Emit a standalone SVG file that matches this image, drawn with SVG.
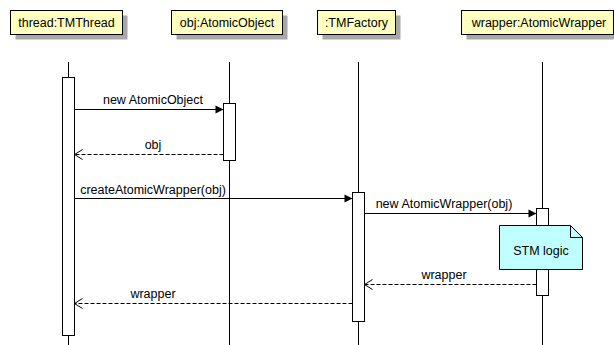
<svg xmlns="http://www.w3.org/2000/svg" width="614" height="345" viewBox="0 0 614 345">
<defs>
<style>
text{font-family:"Liberation Sans",Arial,sans-serif;font-size:12.5px;fill:#000}
.box{fill:#FFFFC0;stroke:#000;stroke-width:1}
.shadow{fill:#A8A8A8;stroke:none}
.life{stroke:#000;stroke-width:1;fill:none}
.act{fill:#fff;stroke:#000;stroke-width:1}
.msg{stroke:#000;stroke-width:1;fill:none}
.ret{stroke:#000;stroke-width:1;fill:none;stroke-dasharray:4,2}
</style>
<marker id="filled" markerWidth="10" markerHeight="10" refX="9" refY="5" orient="auto" markerUnits="userSpaceOnUse">
<path d="M1,1 L9,5 L1,9 Z" fill="#000"/>
</marker>
<marker id="open" markerWidth="12" markerHeight="12" refX="10" refY="6" orient="auto" markerUnits="userSpaceOnUse">
<path d="M2,1 L10,6 L2,11" fill="none" stroke="#000" stroke-width="1"/>
</marker>
</defs>
<rect width="614" height="345" fill="#fff"/>
<g id="lifelines">
<line class="life" x1="68.5" y1="62" x2="68.5" y2="345"/>
<line class="life" x1="229.5" y1="62" x2="229.5" y2="345"/>
<line class="life" x1="358.5" y1="62" x2="358.5" y2="345"/>
<line class="life" x1="542.5" y1="62" x2="542.5" y2="345"/>
</g>
<g id="thread">
<rect class="shadow" x="15.5" y="15.5" width="112" height="24"/>
<rect class="box" x="10.5" y="10.5" width="112" height="24"/>
<text x="66.5" y="27" text-anchor="middle">thread:TMThread</text>
<rect class="act" x="62.5" y="77.5" width="12" height="258"/>
</g>
<g id="obj">
<rect class="shadow" x="176.5" y="15.5" width="111" height="24"/>
<rect class="box" x="171.5" y="10.5" width="111" height="24"/>
<text x="227" y="27" text-anchor="middle">obj:AtomicObject</text>
<rect class="act" x="223.5" y="103.5" width="12" height="57"/>
</g>
<g id="factory">
<rect class="shadow" x="322.5" y="15.5" width="78" height="24"/>
<rect class="box" x="317.5" y="10.5" width="78" height="24"/>
<text x="356.5" y="27" text-anchor="middle">:TMFactory</text>
<rect class="act" x="352.5" y="192.5" width="12" height="129"/>
</g>
<g id="wrapper">
<rect class="shadow" x="466.5" y="15.5" width="152" height="24"/>
<rect class="box" x="461.5" y="10.5" width="152" height="24"/>
<text x="539" y="27" text-anchor="middle">wrapper:AtomicWrapper</text>
<rect class="act" x="536.5" y="208.5" width="12" height="87"/>
</g>
<g id="note">
<path d="M499.5,225.5 L570.5,225.5 L582.5,237.5 L582.5,269.5 L499.5,269.5 Z" fill="#C0FFFF" stroke="#000"/>
<path d="M570.5,225.5 L570.5,237.5 L582.5,237.5" fill="none" stroke="#000"/>
<text x="541" y="255" text-anchor="middle">STM logic</text>
</g>
<g id="connectors">
<line class="msg" x1="74.5" y1="109.5" x2="223.5" y2="109.5" marker-end="url(#filled)"/>
<text x="153" y="104" text-anchor="middle">new AtomicObject</text>
<line class="ret" x1="223.5" y1="154.5" x2="74.5" y2="154.5" marker-end="url(#open)"/>
<text x="153" y="149" text-anchor="middle">obj</text>
<line class="msg" x1="74.5" y1="198.5" x2="352.5" y2="198.5" marker-end="url(#filled)"/>
<text x="153" y="194" text-anchor="middle">createAtomicWrapper(obj)</text>
<line class="msg" x1="364.5" y1="213.5" x2="536.5" y2="213.5" marker-end="url(#filled)"/>
<text x="444" y="208" text-anchor="middle">new AtomicWrapper(obj)</text>
<line class="ret" x1="536.5" y1="284.5" x2="364.5" y2="284.5" marker-end="url(#open)"/>
<text x="444" y="279" text-anchor="middle">wrapper</text>
<line class="ret" x1="352.5" y1="303.5" x2="74.5" y2="303.5" marker-end="url(#open)"/>
<text x="153" y="298" text-anchor="middle">wrapper</text>
</g>
</svg>
